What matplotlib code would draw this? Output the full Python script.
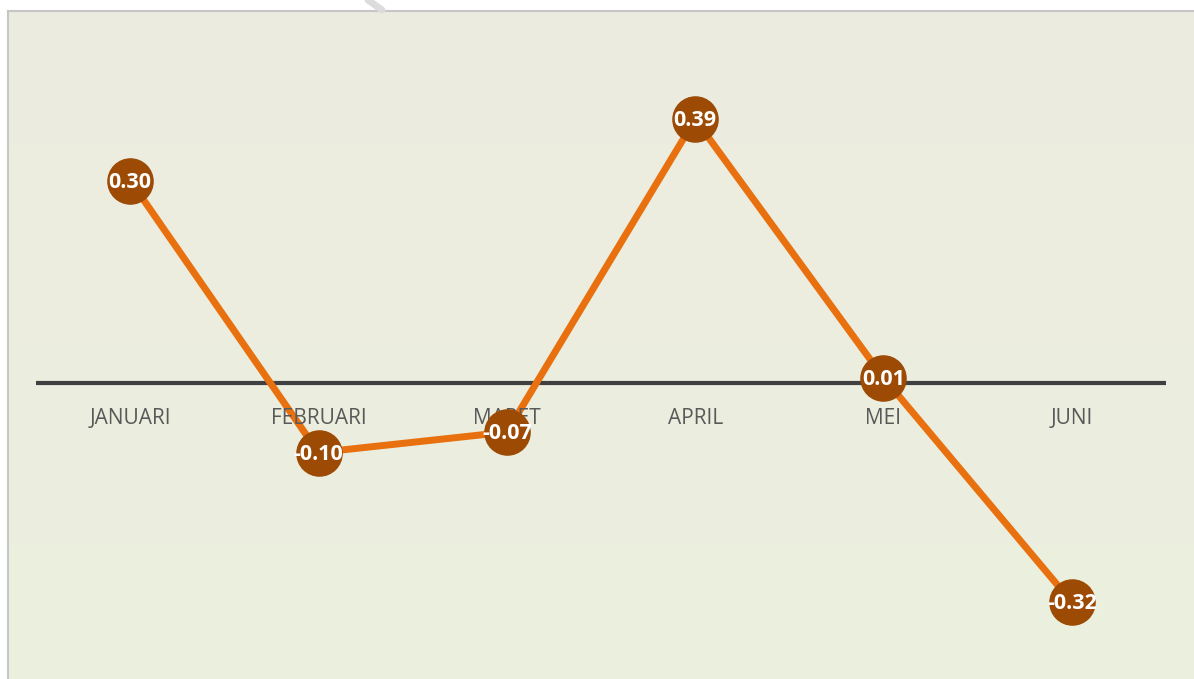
import numpy as np
import matplotlib
matplotlib.use("Agg")
import matplotlib.pyplot as plt
from matplotlib.lines import Line2D

months = ["JANUARI", "FEBRUARI", "MARET", "APRIL", "MEI", "JUNI"]
values = [0.30, -0.10, -0.07, 0.39, 0.01, -0.32]
labels = ["0.30", "-0.10", "-0.07", "0.39", "0.01", "-0.32"]

W, H = 1194, 679
fig = plt.figure(figsize=(W / 100, H / 100), dpi=100)
fig.patch.set_facecolor("white")

# background panel with subtle vertical gradient
bx0, btop = 8 / W, (H - 11) / H
bg = fig.add_axes([bx0, 0, 1 - bx0, btop])
top = np.array([237, 235, 224]) / 255
bot = np.array([235, 240, 222]) / 255
t = np.linspace(0, 1, 256)[:, None]
grad = (top[None, :] * (1 - t) + bot[None, :] * t)[:, None, :]
bg.imshow(grad, aspect="auto", extent=[0, 1, 0, 1], origin="upper")
bg.set_xlim(0, 1)
bg.set_ylim(0, 1)
bg.axis("off")

# frame border (left and top)
fig.add_artist(Line2D([bx0, bx0], [0, btop], transform=fig.transFigure, color="#c6c6c6", lw=1.5))
fig.add_artist(Line2D([bx0, 1], [btop, btop], transform=fig.transFigure, color="#c6c6c6", lw=1.5))
# faint watermark stroke at top
fig.add_artist(Line2D([368 / W, 382 / W], [1, (H - 10) / H], transform=fig.transFigure,
                      color="#dcdcdc", lw=5, solid_capstyle="round"))

# main axes
zero_px = 384.5
scale = 680.0
ax = fig.add_axes([36 / W, 0, (1166 - 36) / W, 1])
ax.set_facecolor("none")
ax.set_xlim(-0.5, len(months) - 0.5)
ax.set_ylim(-(H - zero_px) / scale, zero_px / scale)
for s in ax.spines.values():
    s.set_visible(False)
ax.set_xticks([])
ax.set_yticks([])

x = np.arange(len(months))
ax.axhline(1.5 / scale, color="#404040", lw=3, zorder=1)

ax.plot(x, values, color="#e8700e", lw=5, zorder=2, solid_capstyle="round")
ax.plot(x, values, "o", ms=32.5, color="#9c4a04", mec="#9c4a04", zorder=4)

for xi, m in zip(x, months):
    ax.text(xi, -33.5 / scale, m, ha="center", va="center", fontsize=15,
            color="#595959", family="Open Sans", zorder=3)

for xi, v, lab in zip(x, values, labels):
    ax.text(xi, v - 1.5 / scale, lab, ha="center", va="center", fontsize=15.5, fontweight="bold",
            color="white", family="Open Sans", zorder=5)

fig.savefig("out.png", dpi=100, facecolor=fig.get_facecolor())
